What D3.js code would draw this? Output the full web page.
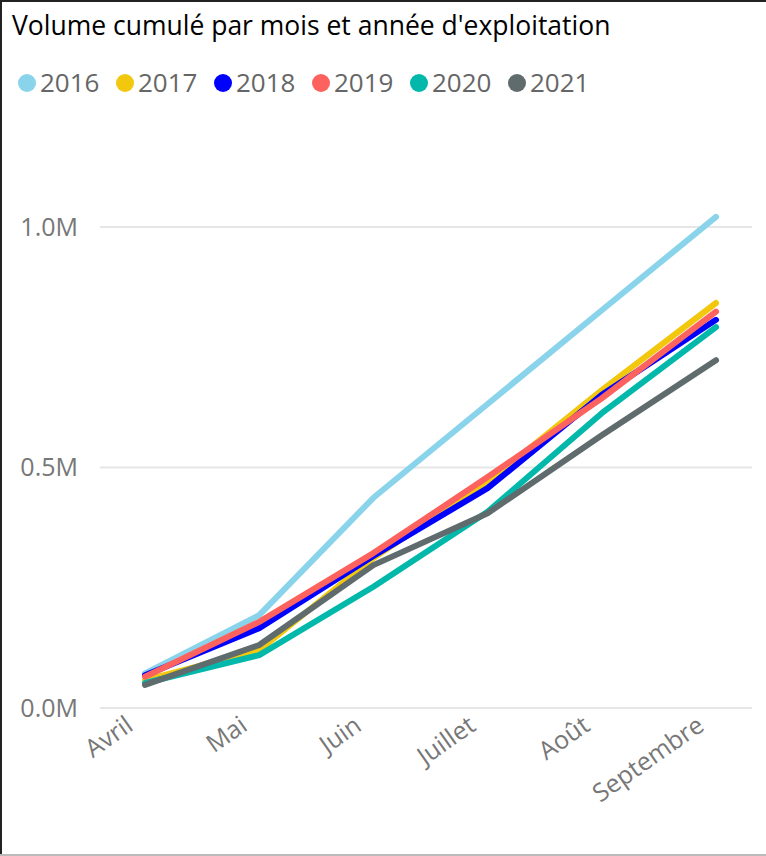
<!DOCTYPE html>
<html>
  <head>
    <meta charset="utf-8">
    <title>Volume cumulé</title>
    <script src="https://d3js.org/d3.v7.min.js"></script>
    <style>
      body { margin: 0; background: #fff; }
      text { font-family: "Segoe UI", "Open Sans", sans-serif; }
    </style>
  </head>
  <body>
    <script>
      // months on the x axis
      var months = ["Avril", "Mai", "Juin", "Juillet", "Août", "Septembre"];
      var years = ["2016", "2017", "2018", "2019", "2020", "2021"];
      var colors = ["#8AD4EB", "#F2C80F", "#0000FF", "#FD625E", "#01B8AA", "#5F6B6D"];
      // cumulated volume per year
      var v2016 = [72000, 193000, 437000, 632000, 827000, 1021000];
      var v2017 = [58000, 120000, 312000, 470000, 661000, 842000];
      var v2018 = [68000, 166000, 316000, 457000, 651000, 807000];
      var v2019 = [65000, 179000, 322000, 480000, 644000, 824000];
      var v2020 = [52000, 110000, 252000, 408000, 613000, 792000];
      var v2021 = [48000, 131000, 297000, 405000, 567000, 723000];
      var yTicks = [0, 500000, 1000000];

      var series = [v2016, v2017, v2018, v2019, v2020, v2021];

      var w = 766, h = 856;
      var svg = d3.select("body").append("svg")
                  .attr("width", w)
                  .attr("height", h);

      // frame
      svg.append("line").attr("x1", 1).attr("y1", 0).attr("x2", 1).attr("y2", h)
         .style("stroke", "#222").style("stroke-width", 2);
      svg.append("line").attr("x1", 0).attr("y1", 1).attr("x2", w).attr("y2", 1)
         .style("stroke", "#222").style("stroke-width", 2);
      svg.append("line").attr("x1", 0).attr("y1", h - 1).attr("x2", w).attr("y2", h - 1)
         .style("stroke", "#bbb").style("stroke-width", 2);

      // title
      svg.append("text")
         .attr("x", 12).attr("y", 35)
         .style("font-size", "26.5px")
         .style("fill", "#000")
         .text("Volume cumulé par mois et année d'exploitation");

      // legend
      var legend = svg.selectAll(".legend")
                      .data(years)
                      .enter().append("g")
                      .attr("class", "legend")
                      .attr("transform", function(d, i) { return "translate(" + (27 + i * 98) + ",83)"; });
      legend.append("circle").attr("r", 9).style("fill", function(d, i) { return colors[i]; });
      legend.append("text")
            .attr("x", 13).attr("y", 9)
            .style("font-size", "26px")
            .style("fill", "#666")
            .text(function(d) { return d; });

      // scales
      var x = d3.scalePoint().domain(months).range([145, 716]);
      var y = d3.scaleLinear().domain([0, 1000000]).range([708, 227]);

      // gridlines
      svg.selectAll(".grid")
         .data(yTicks)
         .enter().append("line")
         .attr("class", "grid")
         .attr("x1", 100).attr("x2", 752)
         .attr("y1", function(d) { return y(d); })
         .attr("y2", function(d) { return y(d); })
         .style("stroke", "#e6e6e6")
         .style("stroke-width", 2);

      // y axis
      var yAxis = svg.append("g")
                     .attr("transform", "translate(78,0)")
                     .call(d3.axisLeft(y).tickValues(yTicks).tickSize(0).tickPadding(0)
                           .tickFormat(function(d) { return d3.format(".1f")(d / 1e6) + "M"; }));
      yAxis.select(".domain").remove();
      yAxis.selectAll("text")
           .style("font-size", "25px")
           .style("font-family", "'Segoe UI', 'Open Sans', sans-serif")
           .style("fill", "#777");

      // x axis
      var xAxis = svg.append("g")
                     .attr("transform", "translate(0,716)")
                     .call(d3.axisBottom(x).tickSize(0).tickPadding(0));
      xAxis.select(".domain").remove();
      xAxis.selectAll("text")
           .attr("text-anchor", "end")
           .attr("dy", "0")
           .attr("y", 16)
           .attr("transform", "translate(-20,0) rotate(-35)")
           .style("font-size", "25px")
           .style("font-family", "'Segoe UI', 'Open Sans', sans-serif")
           .style("fill", "#777");

      // lines
      var line = d3.line()
                   .x(function(d, i) { return x(months[i]); })
                   .y(function(d) { return y(d); });
      svg.selectAll(".series")
         .data(series)
         .enter().append("path")
         .attr("class", "series")
         .attr("d", line)
         .style("fill", "none")
         .style("stroke", function(d, i) { return colors[i]; })
         .style("stroke-width", 6)
         .style("stroke-linecap", "round")
         .style("stroke-linejoin", "round");
    </script>
  </body>
</html>
